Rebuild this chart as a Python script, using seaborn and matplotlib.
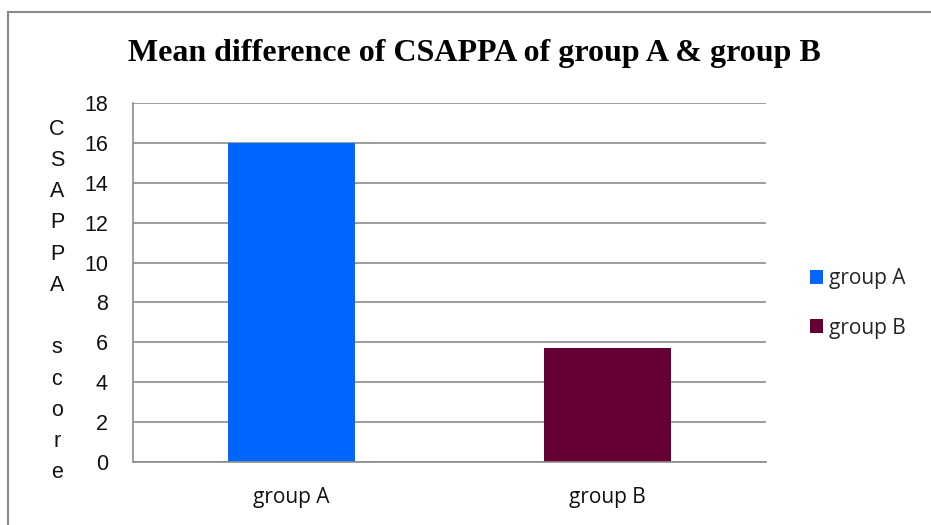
import matplotlib
matplotlib.use("Agg")
import matplotlib.pyplot as plt
import seaborn as sns
import pandas as pd
from matplotlib.patches import Rectangle, Patch

# Mean CSAPPA score per group
groups = ["group A", "group B"]
mean_scores = [16.0, 5.72]
colors = ["#0066FF", "#660033"]
y_ticks = [0, 2, 4, 6, 8, 10, 12, 14, 16, 18]

df = pd.DataFrame({"group": groups, "score": mean_scores})

sns.set_theme(style="white")
plt.rcParams["font.family"] = ["Liberation Sans", "DejaVu Sans"]

fig = plt.figure(figsize=(9.31, 5.25), dpi=100)
ax = fig.add_axes([133 / 931, 1 - 462 / 525, (766 - 133) / 931, (462 - 103) / 525])

sns.barplot(data=df, x="group", y="score", hue="group", palette=colors,
            width=0.4, dodge=False, legend=False, ax=ax, saturation=1,
            linewidth=0, edgecolor="none")

grid_c = "#8c8c8c"
label_font = "Open Sans"
ax.set_ylim(0, 18)
ax.set_xlim(-0.5, 1.5)
ax.set_yticks(y_ticks)
ax.set_yticklabels([str(t) for t in y_ticks], fontsize=15.5,
                   family="Liberation Sans", color="#111111")
ax.set_xticks(range(len(groups)))
ax.set_xticklabels(groups, fontsize=15, family=label_font, color="#111111")
ax.yaxis.grid(True, color=grid_c, linewidth=1.2)
ax.set_axisbelow(True)
ax.tick_params(axis="both", length=0)
ax.tick_params(axis="y", pad=18)
ax.tick_params(axis="x", pad=18)
ax.set_xlabel("")
ax.set_ylabel("")
for side in ["top", "right"]:
    ax.spines[side].set_visible(False)
for side in ["left", "bottom"]:
    ax.spines[side].set_color(grid_c)
    ax.spines[side].set_linewidth(1.2)

# Vertical stacked axis title
fig.text(57 / 931, 1 - 301 / 525, "C\nS\nA\nP\nP\nA\n\ns\nc\no\nr\ne",
         ha="center", va="center", fontsize=15.5, linespacing=1.64,
         family="Liberation Sans", color="#111111")

# Chart title
fig.text(474 / 931, 1 - 54 / 525, "Mean difference of CSAPPA of group A & group B",
         ha="center", va="center", fontsize=23, fontweight="bold",
         family="Liberation Serif", color="black")

# Legend
handles = [Patch(facecolor=c, edgecolor="none") for c in colors]
fig.legend(handles, groups, loc="center left", bbox_to_anchor=(795 / 931, 1 - 303.5 / 525),
           frameon=False, prop={"family": label_font, "size": 15},
           handlelength=0.65, handleheight=0.65, handletextpad=0.3, labelspacing=1.35,
           borderpad=0.2)

# Chart frame
fig.patches.append(Rectangle((8 / 931, -0.1), 1.2, 1 - 12 / 525 + 0.1,
                             transform=fig.transFigure, fill=False,
                             edgecolor="#8a8a8a", linewidth=1.5, zorder=-1))

fig.savefig("out.png", dpi=100, facecolor="white")
